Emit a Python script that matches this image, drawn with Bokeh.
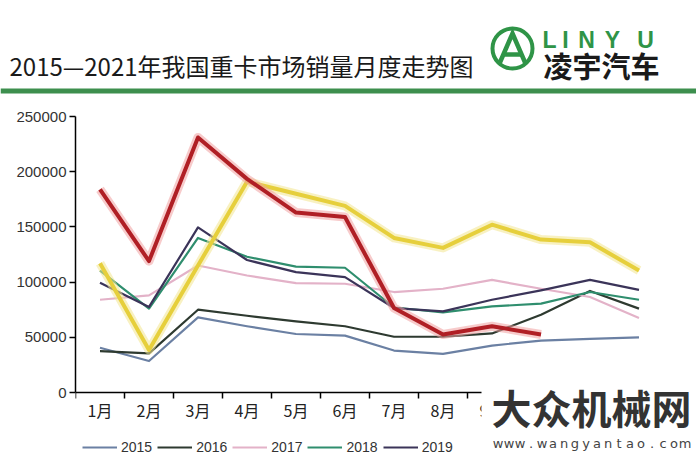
from bokeh.plotting import figure
from bokeh.models import Range1d, FixedTicker, Legend, LegendItem, Label, BoxAnnotation, LinearAxis
from bokeh.layouts import column
from bokeh.embed import file_html
from bokeh.resources import INLINE
from bokeh.core.properties import value

# ---------------- data ----------------
months = ["1月", "2月", "3月", "4月", "5月", "6月", "7月", "8月", "9月", "10月", "11月", "12月"]
years = ["2015", "2016", "2017", "2018", "2019", "2020", "2021"]
s2015 = [40500, 28500, 68000, 60000, 53000, 51500, 38000, 35000, 42500, 47000, 48500, 50000]
s2016 = [37500, 35500, 75000, 69500, 64500, 60000, 50500, 50500, 53500, 70500, 92000, 76000]
s2017 = [84000, 88000, 115000, 106000, 99000, 98500, 91000, 94000, 102000, 94000, 86500, 67500]
s2018 = [110500, 76000, 140000, 123000, 114000, 113000, 77000, 72500, 78000, 80500, 91000, 84000]
s2019 = [99500, 77500, 149500, 120000, 109000, 104500, 76500, 73500, 84000, 92500, 102000, 93000]
s2020 = [117000, 38500, 115000, 191000, 180000, 169000, 140000, 131000, 152000, 138500, 136000, 110500]
s2021 = [184000, 119000, 231000, 193500, 163000, 159000, 76500, 52500, 60000, 52500]
y_ticks = [0, 50000, 100000, 150000, 200000, 250000]

series = [s2015, s2016, s2017, s2018, s2019, s2020, s2021]
colors = ["#6b80a3", "#2e3a30", "#e3b2c8", "#2f8e6e", "#3b3459", "#e6cf3c", "#b01f25"]
widths = [2.2, 2.2, 2.2, 2.2, 2.2, 4, 4]
glows = [None, None, None, None, None, "#f3e690", "#f0a0a0"]

W = 696
HEAD_H = 100
CHART_H = 365
GREEN = "#2f9447"

# ---------------- header ----------------
head = figure(width=W, height=HEAD_H, x_range=Range1d(0, W), y_range=Range1d(HEAD_H, 0),
              output_backend="svg", toolbar_location=None, min_border=0)
head.frame_align = False
head.axis.visible = False
head.grid.visible = False
head.outline_line_color = None
head.text(x=[9], y=[65], text=["2015—2021年我国重卡市场销量月度走势图"],
          text_font=value("Noto Sans CJK SC"), text_font_size="24px",
          text_baseline="middle", text_color="#1a1a1a")
head.quad(left=[0], right=[W], top=[88], bottom=[93], fill_color="#3d8f4e", line_color=None)
head.circle(x=[512], y=[48], radius=20, fill_color=None, line_color=GREEN, line_width=4)
head.multi_line(xs=[[499, 512, 525], [504, 521]], ys=[[63, 33, 63], [54, 54]],
                line_color=GREEN, line_width=4.5, line_join="miter")
head.text(x=[549, 565, 586, 612, 645], y=[39] * 5, text=list("LINYU"),
          text_font=value("Liberation Sans"), text_font_style="bold", text_font_size="23px",
          text_align="center", text_baseline="middle", text_color=GREEN)
head.text(x=[543], y=[64], text=["凌宇汽车"], text_font=value("Noto Sans CJK SC"),
          text_font_style="bold", text_font_size="29px", text_baseline="middle",
          text_color="#1a1a1a")

# ---------------- chart ----------------
LEFT, TOP = 75, 16            # frame offsets in the chart figure
PLOT_H = 276                  # pixels from 0 to 250000
CAT_W = 49                    # pixels per month
BELOW = CHART_H - TOP - PLOT_H  # pixels of frame below the zero line
ymax = y_ticks[-1]
upp = ymax / PLOT_H           # data units per pixel

p = figure(width=W, height=CHART_H,
           x_range=Range1d(0, (W - LEFT) / CAT_W),
           y_range=Range1d(-BELOW * upp, ymax),
           x_axis_location=None,
           output_backend="svg", toolbar_location=None,
           min_border_left=LEFT, min_border_right=0, min_border_top=TOP, min_border_bottom=0)
p.frame_align = False
p.grid.visible = False
p.outline_line_color = None

yax = p.yaxis[0]
yax.ticker = FixedTicker(ticks=y_ticks)
yax.bounds = (0, ymax)
yax.major_label_overrides = {t: str(t) for t in y_ticks}
yax.major_label_text_font = "Liberation Sans"
yax.major_label_text_font_size = "15px"
yax.major_label_text_color = "#333333"
yax.major_tick_out = 6
yax.major_tick_in = 0
yax.minor_tick_line_color = None
yax.major_label_standoff = 3
yax.axis_line_width = 1.5
yax.major_tick_line_width = 1.5

centers = [i + 0.5 for i in range(len(months))]
xax = LinearAxis(fixed_location=0, bounds=(0, len(months)),
                 ticker=FixedTicker(ticks=[], minor_ticks=list(range(len(months) + 1))),
                 major_label_text_font_size="0px",
                 major_tick_in=0, major_tick_out=0,
                 minor_tick_in=6, minor_tick_out=0,
                 minor_tick_line_color="black", minor_tick_line_width=1.5,
                 axis_line_width=1.5, axis_line_color="black")
p.add_layout(xax, "above")

# month labels below the zero line
p.text(x=centers, y=[-17 * upp] * len(months), text=months,
       text_font=value("Noto Sans CJK SC"), text_font_size="16px",
       text_align="center", text_baseline="middle", text_color="#222222")

renderers = {}
for yr, vals, c, w, g in zip(years, series, colors, widths, glows):
    xs = centers[:len(vals)]
    if g:
        p.line(xs, vals, line_color=g, line_width=w + 5, line_alpha=0.55, line_join="round")
    r = p.line(xs, vals, line_color=c, line_width=w, line_join="round")
    renderers[yr] = r

# visible part of the legend (the rest lies under the watermark)
legend = Legend(items=[LegendItem(label=yr, renderers=[renderers[yr]]) for yr in years[:5]],
                location=(7, 8), glyph_width=35, orientation="horizontal",
                label_text_font="Liberation Sans", label_text_font_size="14px",
                label_text_color="#333333", glyph_height=20, label_height=20,
                label_standoff=4, spacing=5, padding=0, margin=0,
                border_line_color=None, background_fill_alpha=0)
p.add_layout(legend)

# watermark over the lower right corner
box = BoxAnnotation(left=406, right=W - LEFT, bottom=0, top=75,
                    left_units="screen", right_units="screen",
                    top_units="screen", bottom_units="screen",
                    fill_color="white", fill_alpha=1, line_color=None, level="overlay")
p.add_layout(box)
p.add_layout(Label(x=516, y=59, x_units="screen", y_units="screen", text="大众机械网",
                   text_font="Noto Sans CJK SC", text_font_style="bold", text_font_size="40px",
                   text_align="center", text_baseline="middle", text_color="#333333",
                   level="overlay"))
for i, ch in enumerate("www.wangyantao.com"):
    p.add_layout(Label(x=422.5 + i * 11, y=22, x_units="screen", y_units="screen", text=ch,
                       text_font="DejaVu Sans", text_font_size="13px",
                       text_align="center", text_baseline="middle", text_color="#444444",
                       level="overlay"))

layout = column(head, p)
open("out.html", "w").write(file_html(layout, INLINE))
